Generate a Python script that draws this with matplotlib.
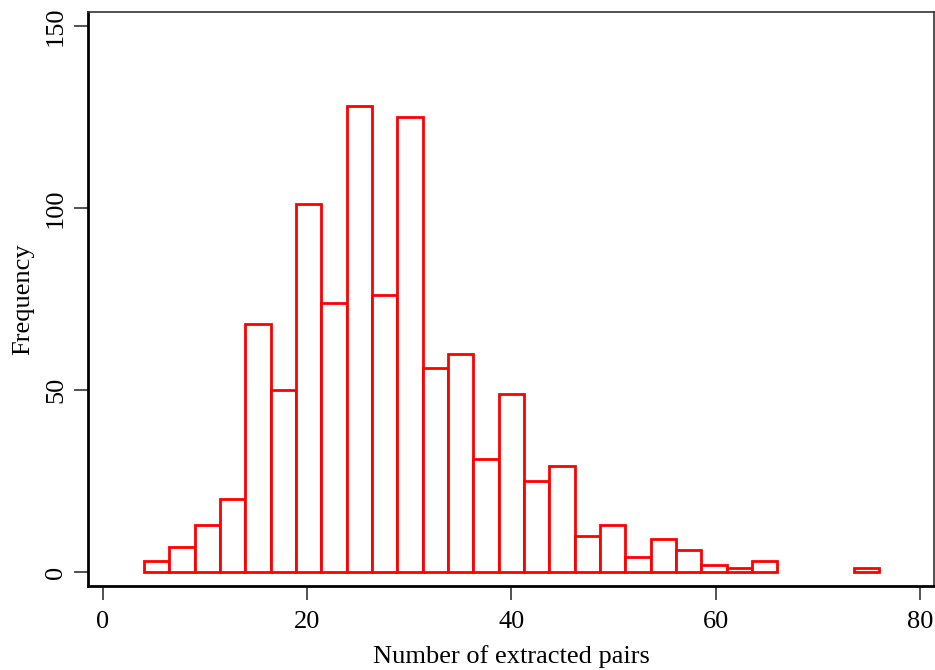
import numpy as np
import matplotlib
matplotlib.use("Agg")
import matplotlib.pyplot as plt

plt.rcParams['font.family'] = ['Liberation Serif', 'DejaVu Serif']

# Histogram data (29 bins between min and max)
x_min, x_max, n_bins = 4, 76, 29
counts = [3, 7, 13, 20, 68, 50, 101, 74, 128, 76, 125, 56, 60, 31, 49,
          25, 29, 10, 13, 4, 9, 6, 2, 1, 3, 0, 0, 0, 1]
x_ticks = [0, 20, 40, 60, 80]
y_ticks = [0, 50, 100, 150]
x_label = "Number of extracted pairs"
y_label = "Frequency"

edges = np.linspace(x_min, x_max, n_bins + 1)
counts = np.array(counts)
mask = counts > 0

fig = plt.figure(figsize=(9.35, 6.7), dpi=100)
ax = fig.add_axes([88/935, (670-586)/670, (934-88)/935, (586-12)/670])

ax.bar(edges[:-1][mask], counts[mask], width=np.diff(edges)[mask], align='edge',
       facecolor='white', edgecolor='#ff0000', linewidth=2.0)

ax.set_xlim(-1.47, 81.4)
ax.set_ylim(-3.85, 153.85)
ax.set_xticks(x_ticks)
ax.set_yticks(y_ticks)
ax.set_yticklabels([str(v) for v in y_ticks], rotation=90, va='center')
ax.tick_params(axis='both', direction='out', length=10, width=1.2, color='#333333',
               labelsize=19, pad=5)
ax.tick_params(axis='x', pad=8)

for side in ['left', 'bottom']:
    ax.spines[side].set_linewidth(2.0)
    ax.spines[side].set_color('black')
for side in ['top', 'right']:
    ax.spines[side].set_linewidth(1.2)
    ax.spines[side].set_color('#333333')

ax.set_xlabel(x_label, fontsize=19, labelpad=9)
ax.set_ylabel(y_label, fontsize=19, labelpad=8)

fig.savefig("out.png", dpi=100)
